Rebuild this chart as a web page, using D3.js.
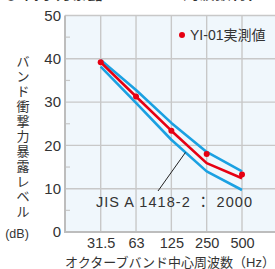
<!DOCTYPE html>
<html>
<head>
<meta charset="utf-8">
<script src="https://cdn.jsdelivr.net/npm/d3@7"></script>
<style>
  body { margin: 0; background: #fff; }
  text { font-family: "Liberation Sans", "Noto Sans CJK JP", sans-serif; fill: #333; }
</style>
</head>
<body>
<script>
// chart data
var bands = ["31.5", "63", "125", "250", "500"];
var jisUpper = [39.7, 32.8, 25.2, 18.5, 14.0];
var jisCenter = [39.2, 31.3, 23.4, 15.9, 12.4];
var jisLower = [38.2, 29.8, 21.3, 14.0, 9.7];
var measured = [39.2, 31.3, 23.4, 18.0, 13.3];
var yTicks = [0, 10, 20, 30, 40, 50];
var yMinor = [5, 15, 25, 35, 45];
var yTitleChars = "バンド衝撃力暴露レベル".split("");

var W = 275, H = 269;
var plotL = 65, plotR = 277, plotT = 15.5, plotB = 232;

var svg = d3.select("body").append("svg")
  .attr("width", W)
  .attr("height", H);

var x = d3.scalePoint()
  .domain(bands)
  .range([100.7, 242]);
var y = d3.scaleLinear()
  .domain([0, 50])
  .range([plotB, plotT]);

// cut-off heading at the very top
svg.append("text").attr("x", 3).attr("y", -1)
  .style("font-size", "16px").style("font-weight", "bold")
  .text("◎ 衝撃力暴露 ・");
svg.append("text").attr("x", 183).attr("y", -1)
  .style("font-size", "16px").style("font-weight", "bold")
  .text("周波数特性");

// plot background
svg.append("rect")
  .attr("x", plotL).attr("y", plotT)
  .attr("width", plotR - plotL).attr("height", plotB - plotT)
  .attr("fill", "#f0f7fc");

// grid
svg.append("g").selectAll("line")
  .data(yTicks.slice(1))
  .enter().append("line")
  .attr("x1", plotL).attr("x2", plotR)
  .attr("y1", function(d) { return y(d); })
  .attr("y2", function(d) { return y(d); })
  .attr("stroke", "#c8c8c8").attr("stroke-width", 1.4);

svg.append("g").selectAll("line")
  .data(bands)
  .enter().append("line")
  .attr("x1", function(d) { return x(d); })
  .attr("x2", function(d) { return x(d); })
  .attr("y1", plotT).attr("y2", plotB)
  .attr("stroke", "#c8c8c8").attr("stroke-width", 1.4);

// minor ticks on the left edge
svg.append("g").selectAll("line")
  .data(yMinor)
  .enter().append("line")
  .attr("x1", plotL).attr("x2", plotL + 5)
  .attr("y1", function(d) { return y(d); })
  .attr("y2", function(d) { return y(d); })
  .attr("stroke", "#c8c8c8").attr("stroke-width", 1.2);

// axes frame
svg.append("line").attr("x1", plotL).attr("x2", plotL).attr("y1", plotT).attr("y2", plotB + 1)
  .attr("stroke", "#bdbdbd").attr("stroke-width", 2);
svg.append("line").attr("x1", plotL).attr("x2", plotR).attr("y1", plotB).attr("y2", plotB)
  .attr("stroke", "#bdbdbd").attr("stroke-width", 2);

// y axis labels
var yAxis = svg.append("g")
  .attr("transform", "translate(" + plotL + ",0)")
  .call(d3.axisLeft(y).tickValues(yTicks).tickSize(0).tickPadding(4));
yAxis.select(".domain").remove();
yAxis.selectAll("text")
  .style("font-size", "15px").style("font-family", "Liberation Sans, sans-serif")
  .attr("fill", "#333");

// x axis labels
var xAxis = svg.append("g")
  .attr("transform", "translate(0," + plotB + ")")
  .call(d3.axisBottom(x).tickSize(0).tickPadding(6));
xAxis.select(".domain").remove();
xAxis.selectAll("text")
  .style("font-size", "14.5px").style("font-family", "Liberation Sans, sans-serif")
  .attr("fill", "#333");

// JIS curves
var line = d3.line()
  .x(function(d, i) { return x(bands[i]); })
  .y(function(d) { return y(d); });

[jisUpper, jisLower].forEach(function(s) {
  svg.append("path")
    .attr("d", line(s))
    .attr("fill", "none")
    .attr("stroke", "#1ba1e2")
    .attr("stroke-width", 2.6)
    .attr("stroke-linejoin", "round");
});

svg.append("path")
  .attr("d", line(jisCenter))
  .attr("fill", "none")
  .attr("stroke", "#e60012")
  .attr("stroke-width", 2.6)
  .attr("stroke-linejoin", "round");

// measured points
svg.append("g").selectAll("circle")
  .data(measured)
  .enter().append("circle")
  .attr("cx", function(d, i) { return x(bands[i]); })
  .attr("cy", function(d) { return y(d); })
  .attr("r", 3)
  .attr("fill", "#e60012");

// JIS annotation with leader line
var lx = x("125") + (x("250") - x("125")) * 0.4;
var ly = y(jisLower[2] + (jisLower[3] - jisLower[2]) * 0.4);
svg.append("line")
  .attr("x1", lx).attr("y1", ly)
  .attr("x2", 158).attr("y2", 191)
  .attr("stroke", "#222").attr("stroke-width", 1);
svg.append("text")
  .attr("x", 96).attr("y", 207)
  .attr("textLength", 156)
  .attr("lengthAdjust", "spacing")
  .style("font-size", "14.5px")
  .text("JIS A 1418-2 ： 2000");

// legend
svg.append("circle").attr("cx", 182).attr("cy", 35).attr("r", 3).attr("fill", "#e60012");
svg.append("text").attr("x", 190).attr("y", 40)
  .style("font-size", "14px")
  .text("YI-01実測値");

// y title, vertical
svg.append("g").selectAll("text")
  .data(yTitleChars)
  .enter().append("text")
  .attr("x", 23)
  .attr("y", function(d, i) { return 61 + i * 15; })
  .attr("text-anchor", "middle")
  .attr("dy", "0.36em")
  .style("font-size", "13px")
  .text(function(d) { return d; });
svg.append("text").attr("x", 17).attr("y", 238)
  .attr("text-anchor", "middle")
  .style("font-size", "12.5px")
  .text("(dB)");

// x title
svg.append("text").attr("x", 170).attr("y", 267)
  .attr("text-anchor", "middle")
  .style("font-size", "13px")
  .text("オクターブバンド中心周波数（Hz）");
</script>
</body>
</html>
